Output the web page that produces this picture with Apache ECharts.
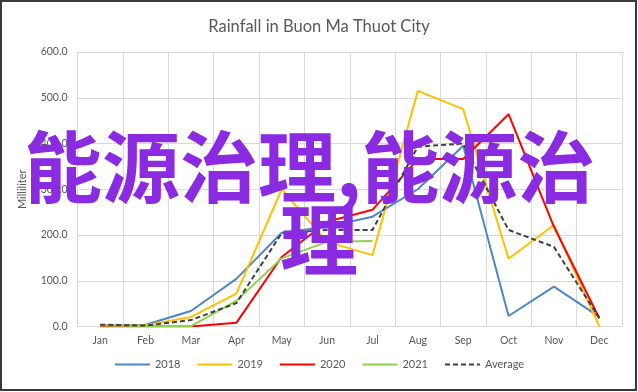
<!DOCTYPE html>
<html>
<head>
<meta charset="utf-8">
<script src="https://cdn.jsdelivr.net/npm/echarts@6/dist/echarts.min.js"></script>
<style>
html,body{margin:0;padding:0;background:#fff;}
#main{width:638px;height:392px;}
</style>
</head>
<body>
<div id="main"></div>
<script>
var months = ['Jan','Feb','Mar','Apr','May','Jun','Jul','Aug','Sep','Oct','Nov','Dec'];
var y2018 = [2, 4, 34, 104, 205, 218, 240, 300, 395, 23, 87, 21];
var y2019 = [1, 3, 21, 72, 300, 185, 156, 515, 475, 148, 222, 0];
var y2020 = [0, 0, 0, 8, 152, 229, 255, 366, 366, 464, 218, 18];
var y2021 = [2, 1, 1, 56, 149, 185, 187, null, null, null, null, null];
var yAvg = [4, 2, 14, 51, 204, 211, 211, 393, 400, 211, 174, 18];
var seriesNames = ['2018','2019','2020','2021','Average'];
var titleText = 'Rainfall in Buon Ma Thuot City';
var yAxisName = 'Milliliter';
var overlayLine1 = '能源治理,能源治';
var overlayLine2 = '理';

var chart = echarts.init(document.getElementById('main'), null, {renderer:'canvas'});
var gridColor = '#d9d9d9';
var textColor = '#595959';
var font = 'Lato, "Open Sans", sans-serif';
function mk(name, data, color, dashed){
  return {
    name: name, type: 'line', data: data, symbol: 'none', smooth: false,
    connectNulls: false,
    lineStyle: {color: color, width: 2, type: dashed ? [5,3] : 'solid'},
    itemStyle: {color: color},
    z: dashed ? 5 : 3
  };
}
chart.setOption({
  animation: false,
  backgroundColor: '#fff',
  title: {
    text: titleText, left: 'center', top: 13,
    textStyle: {color: textColor, fontSize: 16.5, fontWeight: 'normal', fontFamily: font}
  },
  grid: {left: 77.5, right: 16, top: 52, bottom: 65.5},
  xAxis: {
    type: 'category', data: months, boundaryGap: true,
    axisLine: {show: true, lineStyle: {color: gridColor}},
    axisTick: {show: false},
    splitLine: {show: true, lineStyle: {color: gridColor, width: 1}},
    axisLabel: {color: textColor, fontSize: 10.5, margin: 9, fontFamily: font}
  },
  yAxis: {
    type: 'value', min: 0, max: 600, interval: 100,
    name: yAxisName, nameLocation: 'middle', nameGap: 50, nameRotate: 90,
    nameTextStyle: {color: textColor, fontSize: 11, fontFamily: font},
    axisLine: {show: false}, axisTick: {show: false},
    splitLine: {show: true, lineStyle: {color: gridColor, width: 1}},
    axisLabel: {color: textColor, fontSize: 10.5, margin: 10, fontFamily: font,
      formatter: function(v){ return v.toFixed(1); }}
  },
  legend: {
    data: seriesNames, bottom: 17, left: 'center',
    itemWidth: 35, itemHeight: 10, itemGap: 16,
    itemStyle: {opacity: 0},
    textStyle: {color: textColor, fontSize: 11, fontFamily: font}
  },
  series: [
    mk(seriesNames[0], y2018, '#4E86C6', false),
    mk(seriesNames[1], y2019, '#FFC000', false),
    mk(seriesNames[2], y2020, '#FF0000', false),
    mk(seriesNames[3], y2021, '#92D050', false),
    mk(seriesNames[4], yAvg, '#404040', true)
  ],
  graphic: [
    {type: 'rect', shape: {x: 1, y: 1, width: 635, height: 389},
     style: {fill: 'none', stroke: '#3a3a3a', lineWidth: 2}, z: 100, silent: true},
    {type: 'text', z: 200, silent: true,
     style: {text: overlayLine1, x: 24, y: 167, align: 'left', verticalAlign: 'middle',
       fontSize: 78, fontWeight: 'bold', fontFamily: '"Noto Sans CJK SC"', fill: '#8A2BE2'}},
    {type: 'text', z: 200, silent: true,
     style: {text: overlayLine2, x: 319, y: 240, align: 'center', verticalAlign: 'middle',
       fontSize: 78, fontWeight: 'bold', fontFamily: '"Noto Sans CJK SC"', fill: '#8A2BE2'}}
  ]
});
</script>
</body>
</html>
